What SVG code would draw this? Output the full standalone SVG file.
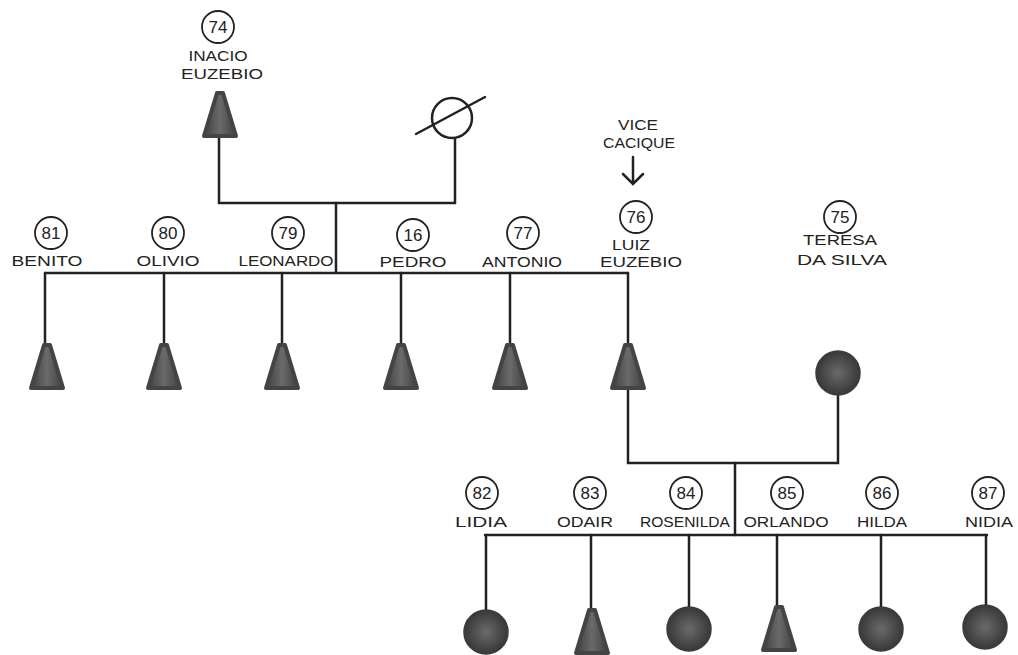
<svg xmlns="http://www.w3.org/2000/svg" xmlns:xlink="http://www.w3.org/1999/xlink" width="1018" height="655" viewBox="0 0 1018 655">
<style>
.ln{stroke:#222;stroke-width:2.5;fill:none;stroke-linecap:round}
.lbl{font-family:"Liberation Sans",sans-serif;font-size:14px;fill:#222;text-anchor:middle}
.num{font-family:"Liberation Sans",sans-serif;font-size:17px;fill:#222;text-anchor:middle}
.ring{fill:#fff;stroke:#222;stroke-width:1.8}
.tri{fill:url(#gT);stroke:#444;stroke-width:4;stroke-linejoin:round}
.fem{fill:url(#gC);stroke:#3c3c3c;stroke-width:1.5}
</style>
<defs>
<linearGradient id="gT" x1="0" y1="0" x2="1" y2="0">
<stop offset="0" stop-color="#404040"/><stop offset="0.5" stop-color="#6a6a6a"/><stop offset="1" stop-color="#404040"/>
</linearGradient>
<radialGradient id="gC" cx="0.5" cy="0.5" r="0.5">
<stop offset="0" stop-color="#6a6a6a"/><stop offset="1" stop-color="#383838"/>
</radialGradient>
<path id="tri" d="M-3,2 L3,2 L16,45 L-16,45 Z"/>
</defs>
<rect width="1018" height="655" fill="#fff"/>

<g id="connectors">
<path class="ln" d="M219 137 V203 H455 V139"/>
<path class="ln" d="M336 203 V273"/>
<path class="ln" d="M45 273 H628"/>
<path class="ln" d="M45 273 V343 M164 273 V343 M282 273 V343 M401 273 V343 M510 273 V343 M628 273 V343"/>
<path class="ln" d="M628 390 V463 H838 V395"/>
<path class="ln" d="M735 463 V535"/>
<path class="ln" d="M485 535 H987"/>
<path class="ln" d="M486 535 V610 M591 535 V608 M689 535 V607 M777 535 V605 M881 535 V607 M986 535 V606"/>
<path class="ln" d="M633 157 V183 M623 174 L633 184 L643 174"/>
</g>

<g id="n74">
<circle class="ring" cx="218" cy="27" r="16"/><text class="num" x="218" y="33">74</text>
<text class="lbl" x="218" y="61" textLength="59" lengthAdjust="spacingAndGlyphs">INACIO</text>
<text class="lbl" x="222" y="79" textLength="82" lengthAdjust="spacingAndGlyphs">EUZEBIO</text>
<use href="#tri" class="tri" x="220" y="91"/>
</g>

<g id="wife74">
<circle cx="452" cy="118" r="20" fill="#fff" stroke="#222" stroke-width="2.5"/>
<line x1="416" y1="134" x2="485" y2="97" stroke="#222" stroke-width="2.5" stroke-linecap="round"/>
</g>

<g id="n81">
<circle class="ring" cx="51" cy="233" r="16"/><text class="num" x="51" y="239">81</text>
<text class="lbl" x="47" y="266" textLength="71" lengthAdjust="spacingAndGlyphs">BENITO</text>
<use href="#tri" class="tri" x="47" y="343"/>
</g>
<g id="n80">
<circle class="ring" cx="168" cy="233" r="16"/><text class="num" x="168" y="239">80</text>
<text class="lbl" x="168" y="266" textLength="63" lengthAdjust="spacingAndGlyphs">OLIVIO</text>
<use href="#tri" class="tri" x="164" y="343"/>
</g>
<g id="n79">
<circle class="ring" cx="288" cy="233" r="16"/><text class="num" x="288" y="239">79</text>
<text class="lbl" x="286" y="266" textLength="95" lengthAdjust="spacingAndGlyphs">LEONARDO</text>
<use href="#tri" class="tri" x="282" y="343"/>
</g>
<g id="n16">
<circle class="ring" cx="413" cy="235" r="16"/><text class="num" x="413" y="241">16</text>
<text class="lbl" x="413" y="267" textLength="67" lengthAdjust="spacingAndGlyphs">PEDRO</text>
<use href="#tri" class="tri" x="401" y="343"/>
</g>
<g id="n77">
<circle class="ring" cx="523" cy="233" r="16"/><text class="num" x="523" y="239">77</text>
<text class="lbl" x="522" y="267" textLength="80" lengthAdjust="spacingAndGlyphs">ANTONIO</text>
<use href="#tri" class="tri" x="510" y="343"/>
</g>
<g id="n76">
<text class="lbl" x="638" y="130" textLength="40" lengthAdjust="spacingAndGlyphs">VICE</text>
<text class="lbl" x="639" y="148" textLength="72" lengthAdjust="spacingAndGlyphs">CACIQUE</text>
<circle class="ring" cx="636" cy="217" r="16"/><text class="num" x="636" y="223">76</text>
<text class="lbl" x="631" y="250" textLength="38" lengthAdjust="spacingAndGlyphs">LUIZ</text>
<text class="lbl" x="641" y="267" textLength="82" lengthAdjust="spacingAndGlyphs">EUZEBIO</text>
<use href="#tri" class="tri" x="628" y="343"/>
</g>
<g id="n75">
<circle class="ring" cx="840" cy="217" r="16"/><text class="num" x="840" y="223">75</text>
<text class="lbl" x="840" y="245" textLength="74" lengthAdjust="spacingAndGlyphs">TERESA</text>
<text class="lbl" x="842" y="265" textLength="90" lengthAdjust="spacingAndGlyphs">DA SILVA</text>
<circle class="fem" cx="838" cy="373" r="22"/>
</g>

<g id="n82">
<circle class="ring" cx="482" cy="493" r="16"/><text class="num" x="482" y="499">82</text>
<text class="lbl" x="481" y="527" textLength="52" lengthAdjust="spacingAndGlyphs">LIDIA</text>
<circle class="fem" cx="486" cy="632" r="22"/>
</g>
<g id="n83">
<circle class="ring" cx="590" cy="493" r="16"/><text class="num" x="590" y="499">83</text>
<text class="lbl" x="585" y="527" textLength="56" lengthAdjust="spacingAndGlyphs">ODAIR</text>
<use href="#tri" class="tri" x="592" y="608"/>
</g>
<g id="n84">
<circle class="ring" cx="686" cy="493" r="16"/><text class="num" x="686" y="499">84</text>
<text class="lbl" x="685" y="527" textLength="90" lengthAdjust="spacingAndGlyphs">ROSENILDA</text>
<circle class="fem" cx="689" cy="629" r="22"/>
</g>
<g id="n85">
<circle class="ring" cx="787" cy="493" r="16"/><text class="num" x="787" y="499">85</text>
<text class="lbl" x="786" y="527" textLength="85" lengthAdjust="spacingAndGlyphs">ORLANDO</text>
<use href="#tri" class="tri" x="779" y="605"/>
</g>
<g id="n86">
<circle class="ring" cx="882" cy="493" r="16"/><text class="num" x="882" y="499">86</text>
<text class="lbl" x="882" y="527" textLength="50" lengthAdjust="spacingAndGlyphs">HILDA</text>
<circle class="fem" cx="881" cy="629" r="22"/>
</g>
<g id="n87">
<circle class="ring" cx="988" cy="493" r="16"/><text class="num" x="988" y="499">87</text>
<text class="lbl" x="989" y="527" textLength="48" lengthAdjust="spacingAndGlyphs">NIDIA</text>
<circle class="fem" cx="985" cy="627" r="22"/>
</g>
</svg>
